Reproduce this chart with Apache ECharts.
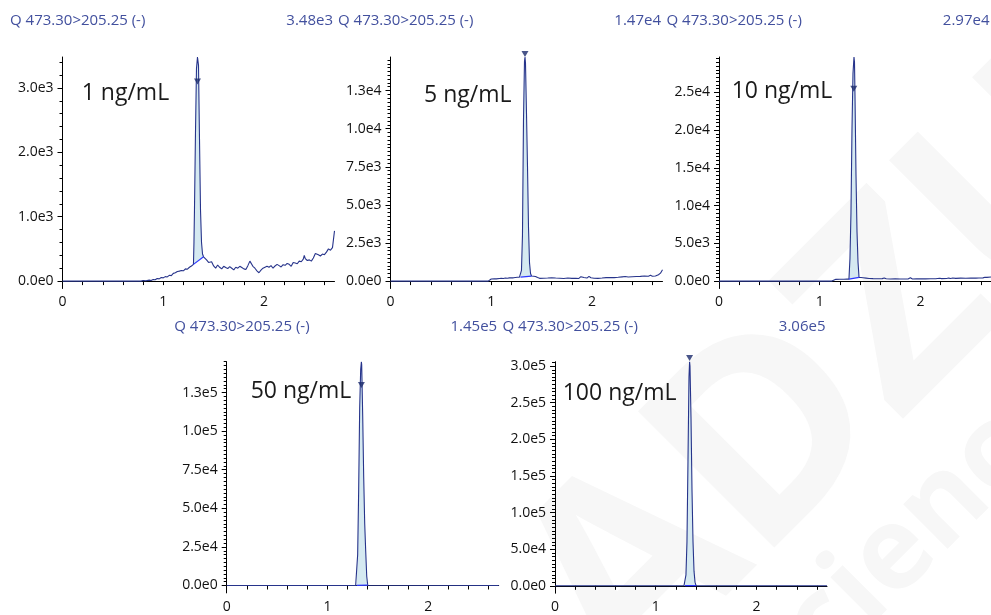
<!DOCTYPE html>
<html>
<head>
<meta charset="utf-8">
<script src="https://cdn.jsdelivr.net/npm/echarts@6/dist/echarts.min.js"></script>
<style>
  html, body { margin: 0; padding: 0; background: #ffffff; }
  #chart { width: 991px; height: 615px; }
</style>
</head>
<body>
<div id="chart"></div>
<script>
// MRM chromatograms of one transition at five calibration levels
const channelName = 'Q 473.30>205.25 (-)';
const levelLabels = ['1 ng/mL', '5 ng/mL', '10 ng/mL', '50 ng/mL', '100 ng/mL'];
const maxIntensityLabels = ['3.48e3', '1.47e4', '2.97e4', '1.45e5', '3.06e5'];
const maxIntensity = [3480, 14700, 29700, 145000, 306000];
const yLabelStep = [1000, 2500, 5000, 25000, 50000];
const yMinorSplit = [5, 10, 10, 10, 10];
const xLabelValues = [0, 1, 2];
const xMax = 2.7;

// retention time (min) / intensity, 1 ng/mL
const rt1 = [0, 0.06, 0.07, 0.08, 0.41, 0.42, 0.43, 0.68, 0.69, 0.70, 0.78, 0.80, 0.83, 0.86, 0.88, 0.90, 0.92, 0.94, 0.96, 0.98,
  1.00, 1.02, 1.04, 1.06, 1.08, 1.10, 1.12, 1.14, 1.16, 1.18, 1.20, 1.22, 1.24, 1.26, 1.28,
  1.30, 1.305, 1.31, 1.32, 1.33, 1.34, 1.35, 1.36, 1.37, 1.38, 1.39, 1.40,
  1.41, 1.43, 1.45, 1.46, 1.48, 1.50, 1.52, 1.54, 1.56, 1.58, 1.60, 1.62, 1.64, 1.66, 1.68, 1.70, 1.72, 1.74, 1.76, 1.78,
  1.80, 1.82, 1.84, 1.86, 1.87, 1.89, 1.91, 1.93, 1.95, 1.97, 1.99, 2.01, 2.03, 2.05, 2.07, 2.09, 2.11, 2.13, 2.15, 2.17,
  2.19, 2.21, 2.23, 2.25, 2.27, 2.29, 2.31, 2.33, 2.35, 2.37, 2.39, 2.40, 2.41, 2.43, 2.45, 2.47, 2.49, 2.51, 2.52, 2.54,
  2.56, 2.58, 2.60, 2.62, 2.64, 2.66, 2.68, 2.70];
const int1 = [0, 0, 12, 0, 0, 10, 0, 0, 12, 0, 0, 10, 5, 15, 10, 25, 20, 40, 35, 55,
  50, 70, 65, 90, 85, 120, 130, 150, 155, 165, 160, 190, 185, 215, 235,
  260, 600, 1100, 2300, 3300, 3480, 3350, 2200, 1100, 600, 420, 378,
  375, 330, 290, 260, 300, 235, 200, 250, 215, 190, 230, 210, 195, 225, 200, 175, 215, 200, 230, 210,
  190, 180, 240, 310, 300, 230, 200, 160, 130, 170, 200, 215, 230, 215, 240, 200, 235, 260, 240, 220,
  255, 245, 275, 260, 230, 290, 280, 270, 310, 300, 340, 400, 350, 320, 330, 310, 360, 430, 450, 410,
  390, 420, 410, 450, 500, 480, 520, 780];

// 5 ng/mL
const rt2 = [0, 0.97, 0.98, 1.00, 1.03, 1.05, 1.08, 1.10, 1.12, 1.14, 1.16, 1.18, 1.20, 1.22, 1.24, 1.26, 1.28,
  1.29, 1.30, 1.31, 1.32, 1.33, 1.335, 1.34, 1.35, 1.36, 1.37, 1.38, 1.39, 1.40,
  1.42, 1.44, 1.46, 1.48, 1.52, 1.56, 1.60, 1.64, 1.68, 1.72, 1.76, 1.80, 1.84, 1.87, 1.89, 1.90, 1.92, 1.95, 1.97, 1.99,
  2.02, 2.06, 2.10, 2.14, 2.18, 2.22, 2.26, 2.30, 2.33, 2.36, 2.40, 2.44, 2.48, 2.52, 2.56, 2.58, 2.60, 2.63, 2.66, 2.68, 2.70];
const int2 = [0, 0, 130, 140, 150, 145, 170, 180, 175, 200, 190, 210, 225, 215, 240, 250, 260,
  265, 700, 3000, 10500, 14400, 14700, 14300, 11000, 7500, 3500, 1200, 500, 330,
  320, 300, 230, 180, 190, 200, 220, 200, 185, 170, 200, 180, 190, 175, 290, 330, 240, 200, 310, 220,
  190, 180, 200, 230, 240, 230, 250, 280, 300, 270, 290, 300, 310, 330, 320, 380, 320, 330, 420, 520, 740];

// 10 ng/mL
const rt3 = [0, 1.12, 1.13, 1.16, 1.20, 1.24, 1.27, 1.28,
  1.29, 1.30, 1.31, 1.32, 1.33, 1.34, 1.345, 1.35, 1.36, 1.37, 1.38, 1.39,
  1.41, 1.43, 1.46, 1.49, 1.53, 1.58, 1.62, 1.64, 1.66, 1.70, 1.75, 1.80, 1.85, 1.88, 1.90, 1.92, 1.96,
  2.00, 2.05, 2.10, 2.15, 2.19, 2.21, 2.26, 2.28, 2.30, 2.32, 2.35, 2.40, 2.45, 2.50, 2.55, 2.58, 2.62, 2.64, 2.66, 2.70];
const int3 = [0, 0, 220, 230, 240, 250, 265, 268,
  268, 3000, 9000, 20000, 27500, 29700, 29000, 24500, 14000, 6500, 2500, 490,
  480, 450, 400, 350, 330, 320, 330, 420, 320, 280, 290, 270, 280, 300, 450, 280, 300,
  290, 300, 310, 320, 380, 330, 340, 400, 350, 410, 360, 390, 380, 400, 400, 420, 430, 510, 500, 540];

// 50 ng/mL
const rt4 = [0, 1.28, 1.29, 1.30, 1.31, 1.32, 1.33, 1.337, 1.34, 1.35, 1.36, 1.37, 1.38, 1.39, 1.40, 1.41, 2.70];
const int4 = [0, 0, 100, 20000, 62000, 115000, 140000, 145000, 143000, 110000, 70000, 40000, 22000, 6000, 200, 0, 0];

// 100 ng/mL
const rt5 = [0, 1.28, 1.29, 1.30, 1.31, 1.32, 1.33, 1.336, 1.34, 1.35, 1.36, 1.37, 1.38, 1.39, 1.40, 1.41, 2.70];
const int5 = [0, 0, 200, 15000, 60000, 170000, 285000, 306000, 300000, 230000, 130000, 60000, 20000, 5000, 300, 0, 0];

// integration windows (start, end) and apex flags
const peakStart = [1.30, 1.29, 1.29, 1.29, 1.29];
const peakEnd = [1.40, 1.40, 1.39, 1.40, 1.40];
const apexTime = [1.34, 1.335, 1.338, 1.337, 1.336];
const apexFlag = [3100, 14900, 25500, 129900, 311000];

const traces = [[rt1, int1], [rt2, int2], [rt3, int3], [rt4, int4], [rt5, int5]];

// panel boxes in pixels
const boxes = [
  { left: 62.5, top: 57, width: 272, height: 231.5 },
  { left: 390.5, top: 57, width: 272, height: 231.5 },
  { left: 719, top: 57, width: 272, height: 231.5 },
  { left: 226.7, top: 361.7, width: 272, height: 231.2 },
  { left: 555, top: 361.7, width: 272, height: 231.5 }
];
const labelPos = [[81.7, 93], [424, 95.5], [731.7, 91.5], [250.7, 391.5], [562.7, 393.8]];

const FONT = '"Open Sans", "Noto Sans", sans-serif';
const TRACE = '#27348b';
const FILL = '#d5e9f1';
const BASE = '#2a36ff';
const HEAD = '#42509e';

function expLabel(v) {
  return Number(v).toExponential(1).replace('e+', 'e');
}

const grid = [], xAxis = [], yAxis = [], series = [], graphic = [];

// faint watermark behind the plots
graphic.push({
  type: 'text', x: 835, y: 378, rotation: Math.PI / 4, z: -10, silent: true,
  style: { text: 'ADZU', font: 'bold 270px ' + FONT, fill: '#f7f7f7', align: 'center', verticalAlign: 'middle' }
});
graphic.push({
  type: 'text', x: 910, y: 540, rotation: Math.PI / 4, z: -10, silent: true,
  style: { text: 'Science', font: 'bold 115px ' + FONT, fill: '#f7f7f7', align: 'center', verticalAlign: 'middle' }
});

traces.forEach(([rt, it], g) => {
  const b = boxes[g];
  const yMax = maxIntensity[g];
  const yMin = -0.033 * yMax;
  grid.push({ left: b.left, top: b.top, width: b.width, height: b.height, containLabel: false });

  const xTicks = [];
  for (let k = 0; k <= 13; k++) xTicks.push(+(k * 0.2).toFixed(1));
  xAxis.push({
    type: 'value', gridIndex: g, min: 0, max: xMax,
    axisLine: { show: true, lineStyle: { color: '#000', width: 1 } },
    axisTick: { show: true, length: 4, lineStyle: { color: '#000' }, customValues: xTicks },
    axisLabel: { customValues: xLabelValues, color: '#111', fontSize: 14, fontFamily: FONT, margin: 7 },
    splitLine: { show: false }
  });

  const majors = [], minors = [];
  for (let v = 0; v <= yMax + 1e-6; v += yLabelStep[g]) majors.push(v);
  const mStep = yLabelStep[g] / yMinorSplit[g];
  for (let v = mStep; v <= yMax + 1e-6; v += mStep) {
    if (Math.abs(v / yLabelStep[g] - Math.round(v / yLabelStep[g])) > 1e-6) minors.push(v);
  }
  yAxis.push({
    type: 'value', gridIndex: g, min: yMin, max: yMax, position: 'left',
    axisLine: { show: true, onZero: false, lineStyle: { color: '#000', width: 1 } },
    axisTick: { show: true, length: 5, lineStyle: { color: '#000' }, customValues: majors },
    axisLabel: { customValues: majors, formatter: expLabel, color: '#111', fontSize: 14, fontFamily: FONT, margin: 9 },
    splitLine: { show: false }
  });
  yAxis.push({
    type: 'value', gridIndex: g, min: yMin, max: yMax, position: 'left',
    axisLine: { show: false },
    axisTick: { show: true, length: 3, lineStyle: { color: '#000' }, customValues: minors },
    axisLabel: { show: false },
    splitLine: { show: false }
  });

  const pts = rt.map((t, k) => [t, it[k]]);
  const area = pts.filter(p => p[0] >= peakStart[g] - 1e-9 && p[0] <= peakEnd[g] + 1e-9);

  // shaded integrated area, closed by the integration baseline
  series.push({
    type: 'custom', xAxisIndex: g, yAxisIndex: 2 * g, z: 2, silent: true,
    data: area,
    renderItem: (params, api) => {
      if (params.dataIndex !== 0) return null;
      return {
        type: 'polygon',
        shape: { points: area.map(p => api.coord(p)) },
        style: { fill: FILL, stroke: null }
      };
    }
  });
  // chromatogram trace
  series.push({
    type: 'line', xAxisIndex: g, yAxisIndex: 2 * g, z: 3, silent: true,
    data: pts, showSymbol: false, symbol: 'none', animation: false,
    lineStyle: { color: TRACE, width: 1.1 }
  });
  // integration baseline
  series.push({
    type: 'line', xAxisIndex: g, yAxisIndex: 2 * g, z: 4, silent: true,
    data: [area[0], area[area.length - 1]], showSymbol: false, symbol: 'none', animation: false,
    lineStyle: { color: BASE, width: 1.2 }
  });
  // apex flag
  series.push({
    type: 'scatter', xAxisIndex: g, yAxisIndex: 2 * g, z: 5, silent: true, clip: false,
    data: [[apexTime[g], apexFlag[g]]],
    symbol: 'triangle', symbolRotate: 180, symbolSize: [7, 6],
    itemStyle: { color: '#1b2a6b' }
  });

  // header: channel on the left, max intensity on the right
  const headY = g < 3 ? 21 : 327;
  graphic.push({
    type: 'text', x: b.left - 52.5, y: headY, silent: true,
    style: { text: channelName, font: '15px ' + FONT, fill: HEAD, verticalAlign: 'middle' }
  });
  graphic.push({
    type: 'text', x: b.left + b.width - 1.5, y: headY, silent: true,
    style: { text: maxIntensityLabels[g], font: '15px ' + FONT, fill: HEAD, align: 'right', verticalAlign: 'middle' }
  });
  // concentration level
  graphic.push({
    type: 'text', x: labelPos[g][0], y: labelPos[g][1], silent: true, z: 10,
    style: { text: levelLabels[g], font: '23px ' + FONT, fill: '#1a1a1a', verticalAlign: 'middle' }
  });
});

const chart = echarts.init(document.getElementById('chart'), null, { renderer: 'canvas' });
chart.setOption({
  backgroundColor: '#ffffff',
  animation: false,
  grid, xAxis, yAxis, series, graphic
});
</script>
</body>
</html>
